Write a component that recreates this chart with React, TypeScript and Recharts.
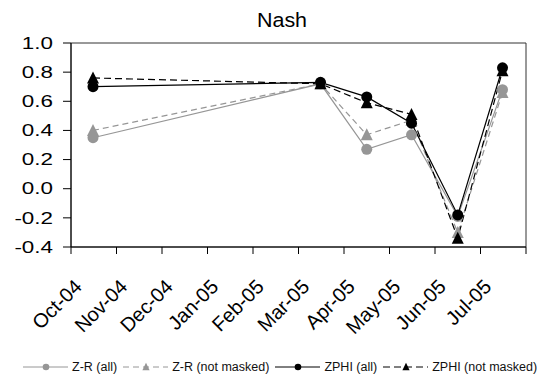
import { LineChart, Line, XAxis, YAxis, ReferenceArea, Legend } from 'recharts'

const months = ['Oct-04', 'Nov-04', 'Dec-04', 'Jan-05', 'Feb-05', 'Mar-05', 'Apr-05', 'May-05', 'Jun-05', 'Jul-05']
const sampleDates = ['2004-10-16', '2005-03-16', '2005-04-16', '2005-05-16', '2005-06-16', '2005-07-16']
const zrAll = [0.35, 0.72, 0.27, 0.37, -0.19, 0.68]
const zrNotMasked = [0.4, 0.72, 0.37, 0.47, -0.3, 0.66]
const zphiAll = [0.7, 0.73, 0.63, 0.45, -0.18, 0.83]
const zphiNotMasked = [0.76, 0.72, 0.59, 0.51, -0.34, 0.81]
const yTicks = [-0.4, -0.2, 0, 0.2, 0.4, 0.6, 0.8, 1.0]

const GRAY = '#969696'
const FONT = '"Liberation Sans", Arial, sans-serif'

// months since 1 Oct 2004
const monthPos = (d: string) => {
  const [y, m, day] = d.split('-').map(Number)
  const dim = new Date(y, m, 0).getDate()
  return (y - 2004) * 12 + (m - 10) + (day - 1) / dim
}

const data = sampleDates.map((d, i) => ({
  x: monthPos(d),
  zrAll: zrAll[i],
  zrNm: zrNotMasked[i],
  zphiAll: zphiAll[i],
  zphiNm: zphiNotMasked[i],
}))

const series = [
  { key: 'zrAll', name: 'Z-R (all)', color: GRAY, dash: undefined, shape: 'circle' },
  { key: 'zrNm', name: 'Z-R (not masked)', color: GRAY, dash: '6 4', shape: 'triangle' },
  { key: 'zphiAll', name: 'ZPHI (all)', color: '#000', dash: undefined, shape: 'circle' },
  { key: 'zphiNm', name: 'ZPHI (not masked)', color: '#000', dash: '7 4', shape: 'triangle' },
]

function Marker({ cx, cy, shape, color, size = 1 }: any) {
  if (cx == null || cy == null) return null
  if (shape === 'circle') return <circle cx={cx} cy={cy} r={5.5 * size} fill={color} />
  const h = 11 * size
  const w = 6 * size
  return <path d={`M${cx},${cy - h / 2 - 1}L${cx + w},${cy + h / 2}L${cx - w},${cy + h / 2}Z`} fill={color} />
}

function MonthTick({ x, y, payload }: any) {
  const label = months[payload.value]
  if (!label) return null
  return (
    <text transform={`translate(${x + 12},${y + 32}) rotate(-45)`} textAnchor="end" fontSize={20} fontFamily={FONT} fill="#000">
      {label}
    </text>
  )
}

// value labels in the source are drawn wide
function ValueTick({ x, y, payload }: any) {
  return (
    <text transform={`translate(${x},${y}) scale(1.4,1)`} dy="0.36em" textAnchor="end" fontSize={16} fontFamily={FONT} fill="#000">
      {Number(payload.value).toFixed(1)}
    </text>
  )
}

function LegendBox() {
  return (
    <div style={{ display: 'flex', alignItems: 'center', height: 24, width: 541, paddingLeft: 23, boxSizing: 'border-box', fontFamily: FONT, fontSize: 12.5, color: '#111', whiteSpace: 'nowrap' }}>
      {series.map((s) => (
        <div key={s.key} style={{ display: 'flex', alignItems: 'center', marginRight: 6, flexShrink: 0 }}>
          <svg width={45} height={14} style={{ flexShrink: 0 }}>
            <line x1={0} y1={7} x2={45} y2={7} stroke={s.color} strokeDasharray={s.dash} strokeWidth={1} />
            <Marker cx={23} cy={7} shape={s.shape} color={s.color} size={0.6} />
          </svg>
          <span style={{ marginLeft: 4 }}>{s.name}</span>
        </div>
      ))}
    </div>
  )
}

export default function App() {
  return (
    <div style={{ position: 'absolute', left: 0, top: 0, width: 541, height: 379, background: '#fff' }}>
      <svg width={541} height={40} style={{ position: 'absolute', left: 0, top: 0 }}>
        <text transform="translate(282,27) scale(1.1,1)" textAnchor="middle" fontSize={19.5} fontFamily={FONT} fill="#000">
          Nash
        </text>
      </svg>
      <LineChart width={541} height={379} data={data} margin={{ top: 43, right: 15, left: 0, bottom: 0 }}>
        <ReferenceArea x1={0} x2={10} y1={-0.4} y2={1.0} fill="none" stroke="#333" strokeWidth={1} ifOverflow="visible" />
        <XAxis
          type="number"
          dataKey="x"
          domain={[0, 10]}
          ticks={[0, 1, 2, 3, 4, 5, 6, 7, 8, 9, 10]}
          interval={0}
          tick={<MonthTick />}
          tickSize={7}
          axisLine={{ stroke: '#000' }}
          tickLine={{ stroke: '#000' }}
          height={108}
        />
        <YAxis
          type="number"
          domain={[-0.4, 1.0]}
          ticks={yTicks}
          interval={0}
          width={71}
          tickSize={8}
          tickMargin={10}
          tick={<ValueTick />}
          axisLine={{ stroke: '#000' }}
          tickLine={{ stroke: '#000' }}
        />
        {series.map((s) => (
          <Line
            key={s.key}
            type="linear"
            dataKey={s.key}
            name={s.name}
            stroke={s.color}
            strokeWidth={1.2}
            strokeDasharray={s.dash}
            dot={(p: any) => <Marker key={`${s.key}-${p.index}`} cx={p.cx} cy={p.cy} shape={s.shape} color={s.color} />}
            activeDot={false}
            isAnimationActive={false}
          />
        ))}
        <Legend verticalAlign="bottom" height={24} wrapperStyle={{ left: 0, width: 541 }} content={<LegendBox />} />
      </LineChart>
    </div>
  )
}
